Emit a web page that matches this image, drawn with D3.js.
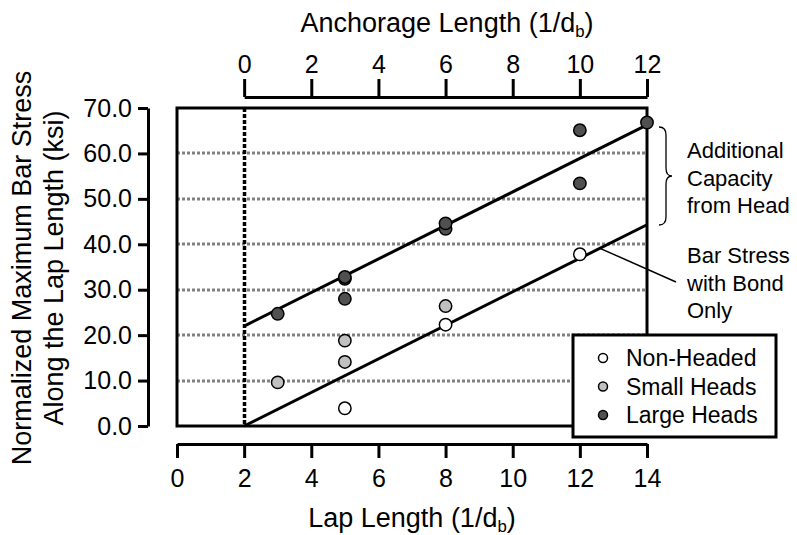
<!DOCTYPE html>
<html>
<head>
<meta charset="utf-8">
<script src="https://cdn.jsdelivr.net/npm/d3@7"></script>
<style>
  html, body { margin: 0; padding: 0; background: #fff; }
  svg { display: block; }
  text { font-family: "Liberation Sans", Arial, Helvetica, sans-serif; fill: #000; }
</style>
</head>
<body>
<svg id="chart" width="797" height="535"></svg>
<script>
// ---- data ----
const nonHeadedLap = [5, 8, 12];
const nonHeadedStress = [3.9, 22.3, 37.8];
const smallHeadsLap = [3, 5, 5, 8];
const smallHeadsStress = [9.6, 14.1, 18.8, 26.4];
const largeHeadsLap = [3, 5, 5, 5, 8, 8, 12, 12, 14];
const largeHeadsStress = [24.7, 28.0, 32.4, 32.8, 43.4, 44.6, 53.4, 65.1, 66.8];
const bondOnlyLap = [2, 14];
const bondOnlyStress = [0, 44.3];
const withHeadLap = [2, 14];
const withHeadStress = [22, 66.3];
const lapTicks = [0, 2, 4, 6, 8, 10, 12, 14];
const anchorageTicks = [0, 2, 4, 6, 8, 10, 12];
const stressTicks = [0, 10, 20, 30, 40, 50, 60, 70];
const gridValues = [10, 20, 30, 40, 50, 60];
const seriesNames = ["Non-Headed", "Small Heads", "Large Heads"];
const seriesFills = ["#ffffff", "#c0c0c0", "#505050"];

// ---- layout ----
const svg = d3.select("#chart");
const L = 177, R = 647, T = 108, B = 426;
const x = d3.scaleLinear().domain([0, 14]).range([L, R]);
const y = d3.scaleLinear().domain([0, 70]).range([B, T]);
const xa = d3.scaleLinear().domain([0, 12]).range([x(2), x(14)]);

// grid
svg.append("g").selectAll("line").data(gridValues).join("line")
  .attr("x1", L).attr("x2", R)
  .attr("y1", d => Math.round(y(d))).attr("y2", d => Math.round(y(d)))
  .attr("stroke", "#808080").attr("stroke-width", 3)
  .attr("stroke-dasharray", "3,2");

// vertical dotted line at lap = 2
svg.append("line")
  .attr("x1", Math.round(x(2)) + 0.5).attr("x2", Math.round(x(2)) + 0.5).attr("y1", T).attr("y2", B)
  .attr("stroke", "#000").attr("stroke-width", 3.5).attr("stroke-dasharray", "4,2");

// frame
svg.append("rect").attr("x", L).attr("y", T).attr("width", R - L).attr("height", B - T)
  .attr("fill", "none").attr("stroke", "#000").attr("stroke-width", 3);

// trend lines
const lineGen = d3.line().x(d => x(d[0])).y(d => y(d[1]));
svg.append("path").attr("d", lineGen(bondOnlyLap.map((v, i) => [v, bondOnlyStress[i]])))
  .attr("stroke", "#000").attr("stroke-width", 3).attr("fill", "none");
svg.append("path").attr("d", lineGen(withHeadLap.map((v, i) => [v, withHeadStress[i]])))
  .attr("stroke", "#000").attr("stroke-width", 3).attr("fill", "none");

// points
const series = [
  [nonHeadedLap, nonHeadedStress],
  [smallHeadsLap, smallHeadsStress],
  [largeHeadsLap, largeHeadsStress]
];
series.forEach((s, k) => {
  svg.append("g").selectAll("circle").data(s[0].map((v, i) => [v, s[1][i]])).join("circle")
    .attr("cx", d => x(d[0])).attr("cy", d => y(d[1])).attr("r", 6.2)
    .attr("fill", seriesFills[k]).attr("stroke", "#000").attr("stroke-width", 1.5);
});

// axes
const styleAxis = g => {
  g.select(".domain").attr("stroke", "#000").attr("stroke-width", 3);
  g.selectAll(".tick line").attr("stroke", "#000").attr("stroke-width", 3);
  g.selectAll(".tick text").attr("font-size", 25)
    .attr("font-family", "Liberation Sans, Arial, sans-serif").attr("fill", "#000");
};
svg.append("g").attr("transform", `translate(0,444)`)
  .call(d3.axisBottom(x).tickValues(lapTicks).tickSize(14).tickSizeOuter(0).tickPadding(11))
  .call(styleAxis);
svg.append("g").attr("transform", `translate(0,97)`)
  .call(d3.axisTop(xa).tickValues(anchorageTicks).tickSize(18).tickSizeOuter(0).tickPadding(6))
  .call(styleAxis);
svg.append("g").attr("transform", `translate(148,0)`)
  .call(d3.axisLeft(y).tickValues(stressTicks).tickFormat(d3.format(".1f")).tickSize(10).tickSizeOuter(0).tickPadding(6))
  .call(styleAxis);

// titles
function subTitle(sel, main) {
  sel.append("tspan").text(main);
  sel.append("tspan").attr("font-size", "0.62em").attr("dy", "0.3em").text("b");
  sel.append("tspan").attr("dy", "-0.19em").text(")");
}
subTitle(svg.append("text").attr("x", 412).attr("y", 527).attr("text-anchor", "middle")
  .attr("font-size", 27), "Lap Length (1/d");
subTitle(svg.append("text").attr("x", 447).attr("y", 32).attr("text-anchor", "middle")
  .attr("font-size", 27), "Anchorage Length (1/d");
const yt = svg.append("text").attr("transform", "translate(0,268) rotate(-90)")
  .attr("text-anchor", "middle").attr("font-size", 27);
yt.append("tspan").attr("x", 0).attr("y", 31).text("Normalized Maximum Bar Stress");
yt.append("tspan").attr("x", 0).attr("y", 63).text("Along the Lap Length (ksi)");

// annotations
const ann1 = ["Additional", "Capacity", "from Head"];
const ann2 = ["Bar Stress", "with Bond", "Only"];
svg.append("g").selectAll("text").data(ann1).join("text")
  .attr("x", 687).attr("y", (d, i) => 158 + i * 27.5).attr("font-size", 22).text(d => d);
svg.append("g").selectAll("text").data(ann2).join("text")
  .attr("x", 687).attr("y", (d, i) => 263 + i * 27.5).attr("font-size", 22).text(d => d);

// brace
const bx = 663, by0 = 127, by1 = 225, bm = (by0 + by1) / 2;
svg.append("path")
  .attr("d", `M${bx - 4},${by0} Q${bx + 3},${by0} ${bx + 3},${by0 + 8} L${bx + 3},${bm - 8} Q${bx + 3},${bm} ${bx + 9},${bm} Q${bx + 3},${bm} ${bx + 3},${bm + 8} L${bx + 3},${by1 - 8} Q${bx + 3},${by1} ${bx - 4},${by1}`)
  .attr("fill", "none").attr("stroke", "#000").attr("stroke-width", 1.3);

// leader line
svg.append("line").attr("x1", x(12.6)).attr("y1", y(3.69 * 10.6))
  .attr("x2", 676).attr("y2", 282).attr("stroke", "#000").attr("stroke-width", 1.5);

// legend
const lg = svg.append("g");
lg.append("rect").attr("x", 573).attr("y", 335).attr("width", 203).attr("height", 102)
  .attr("fill", "#fff").attr("stroke", "#000").attr("stroke-width", 3);
seriesNames.forEach((n, i) => {
  lg.append("circle").attr("cx", 603).attr("cy", 358 + i * 28.5).attr("r", 4.5)
    .attr("fill", seriesFills[i]).attr("stroke", "#000").attr("stroke-width", 1.5);
  lg.append("text").attr("x", 626).attr("y", 358 + i * 28.5).attr("dy", "0.35em")
    .attr("font-size", 23).text(n);
});
</script>
</body>
</html>
